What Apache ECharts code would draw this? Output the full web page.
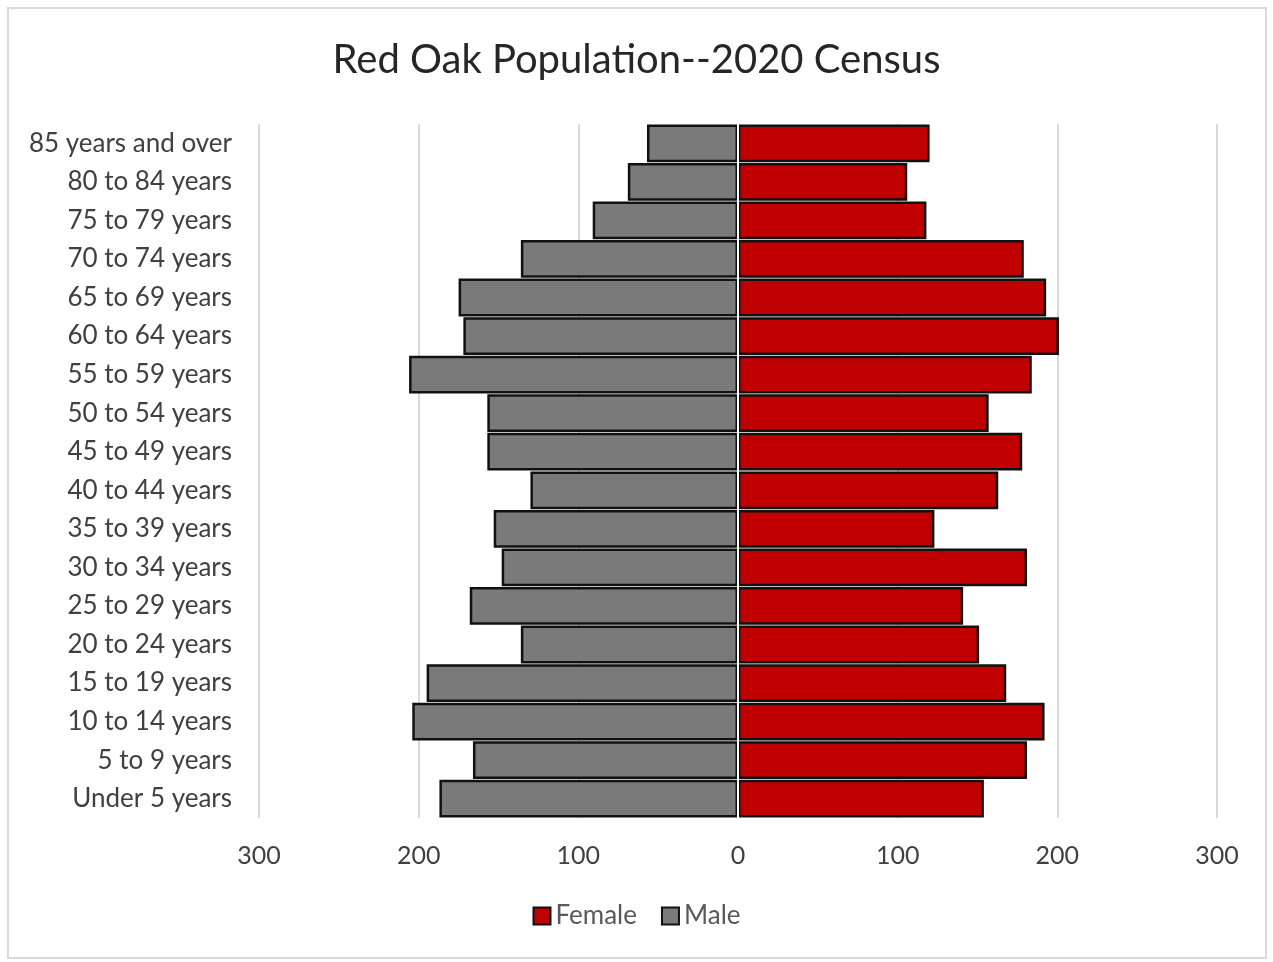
<!DOCTYPE html>
<html>
<head>
<meta charset="utf-8">
<script src="https://cdn.jsdelivr.net/npm/echarts@6/dist/echarts.min.js"></script>
<style>
  html, body { margin: 0; padding: 0; background: #ffffff; }
  #chart { width: 1273px; height: 962px; }
</style>
</head>
<body>
<div id="chart"></div>
<script>
// Age groups, bottom to top as drawn on the category axis
const ageGroups = [
  'Under 5 years', '5 to 9 years', '10 to 14 years', '15 to 19 years',
  '20 to 24 years', '25 to 29 years', '30 to 34 years', '35 to 39 years',
  '40 to 44 years', '45 to 49 years', '50 to 54 years', '55 to 59 years',
  '60 to 64 years', '65 to 69 years', '70 to 74 years', '75 to 79 years',
  '80 to 84 years', '85 years and over'
];

// Head counts per age group
const femaleCounts = [154, 181, 192, 168, 151, 141, 181, 123, 163, 178, 157, 184, 201, 193, 179, 118, 106, 120];
const maleCounts   = [187, 166, 204, 195, 136, 168, 148, 153, 130, 157, 157, 206, 172, 175, 136, 91, 69, 57];

// Value-axis range; labels are shown without sign
const axisTicks = [-300, -200, -100, 0, 100, 200, 300];

const font = 'Lato, "Open Sans", sans-serif';

const chart = echarts.init(document.getElementById('chart'), null, { renderer: 'canvas' });

chart.setOption({
  backgroundColor: '#ffffff',
  animation: false,
  textStyle: { fontFamily: font },
  title: {
    text: 'Red Oak Population--2020 Census',
    left: 'center',
    top: 35,
    textStyle: { fontFamily: font, fontSize: 40, fontWeight: 'normal', color: '#262626' }
  },
  legend: {
    bottom: 28,
    left: 'center',
    itemWidth: 17,
    itemHeight: 17,
    itemGap: 24,
    icon: 'rect',
    data: ['Female', 'Male'],
    textStyle: { fontFamily: font, fontSize: 26, color: '#595959' }
  },
  grid: { left: 259, right: 56, top: 124, bottom: 144, containLabel: false },
  xAxis: {
    type: 'value',
    min: axisTicks[0],
    max: axisTicks[axisTicks.length - 1],
    interval: 100,
    axisLine: { show: false },
    axisTick: { show: false },
    splitLine: { show: true, lineStyle: { color: '#d9d9d9', width: 2 } },
    axisLabel: {
      margin: 25,
      fontFamily: font,
      fontSize: 25,
      color: '#404040',
      formatter: v => String(Math.abs(v))
    }
  },
  yAxis: {
    type: 'category',
    data: ageGroups,
    z: 10,
    axisLine: { show: true, onZero: true, lineStyle: { color: '#ffffff', width: 2 } },
    axisTick: { show: false },
    axisLabel: {
      margin: 27,
      fontFamily: font,
      fontSize: 26,
      color: '#404040'
    }
  },
  series: [
    {
      name: 'Female',
      type: 'bar',
      stack: 'pop',
      data: femaleCounts,
      barCategoryGap: '2%',
      itemStyle: { color: '#c00000', borderColor: '#111111', borderWidth: 2.5 }
    },
    {
      name: 'Male',
      type: 'bar',
      stack: 'pop',
      data: maleCounts.map(v => -v),
      barCategoryGap: '2%',
      itemStyle: { color: '#7b7a7b', borderColor: '#111111', borderWidth: 2.5 }
    }
  ],
  graphic: [
    {
      type: 'rect',
      shape: { x: 8, y: 8, width: 1258, height: 950 },
      style: { fill: 'none', stroke: '#d9d9d9', lineWidth: 2 },
      silent: true
    }
  ]
});
</script>
</body>
</html>
